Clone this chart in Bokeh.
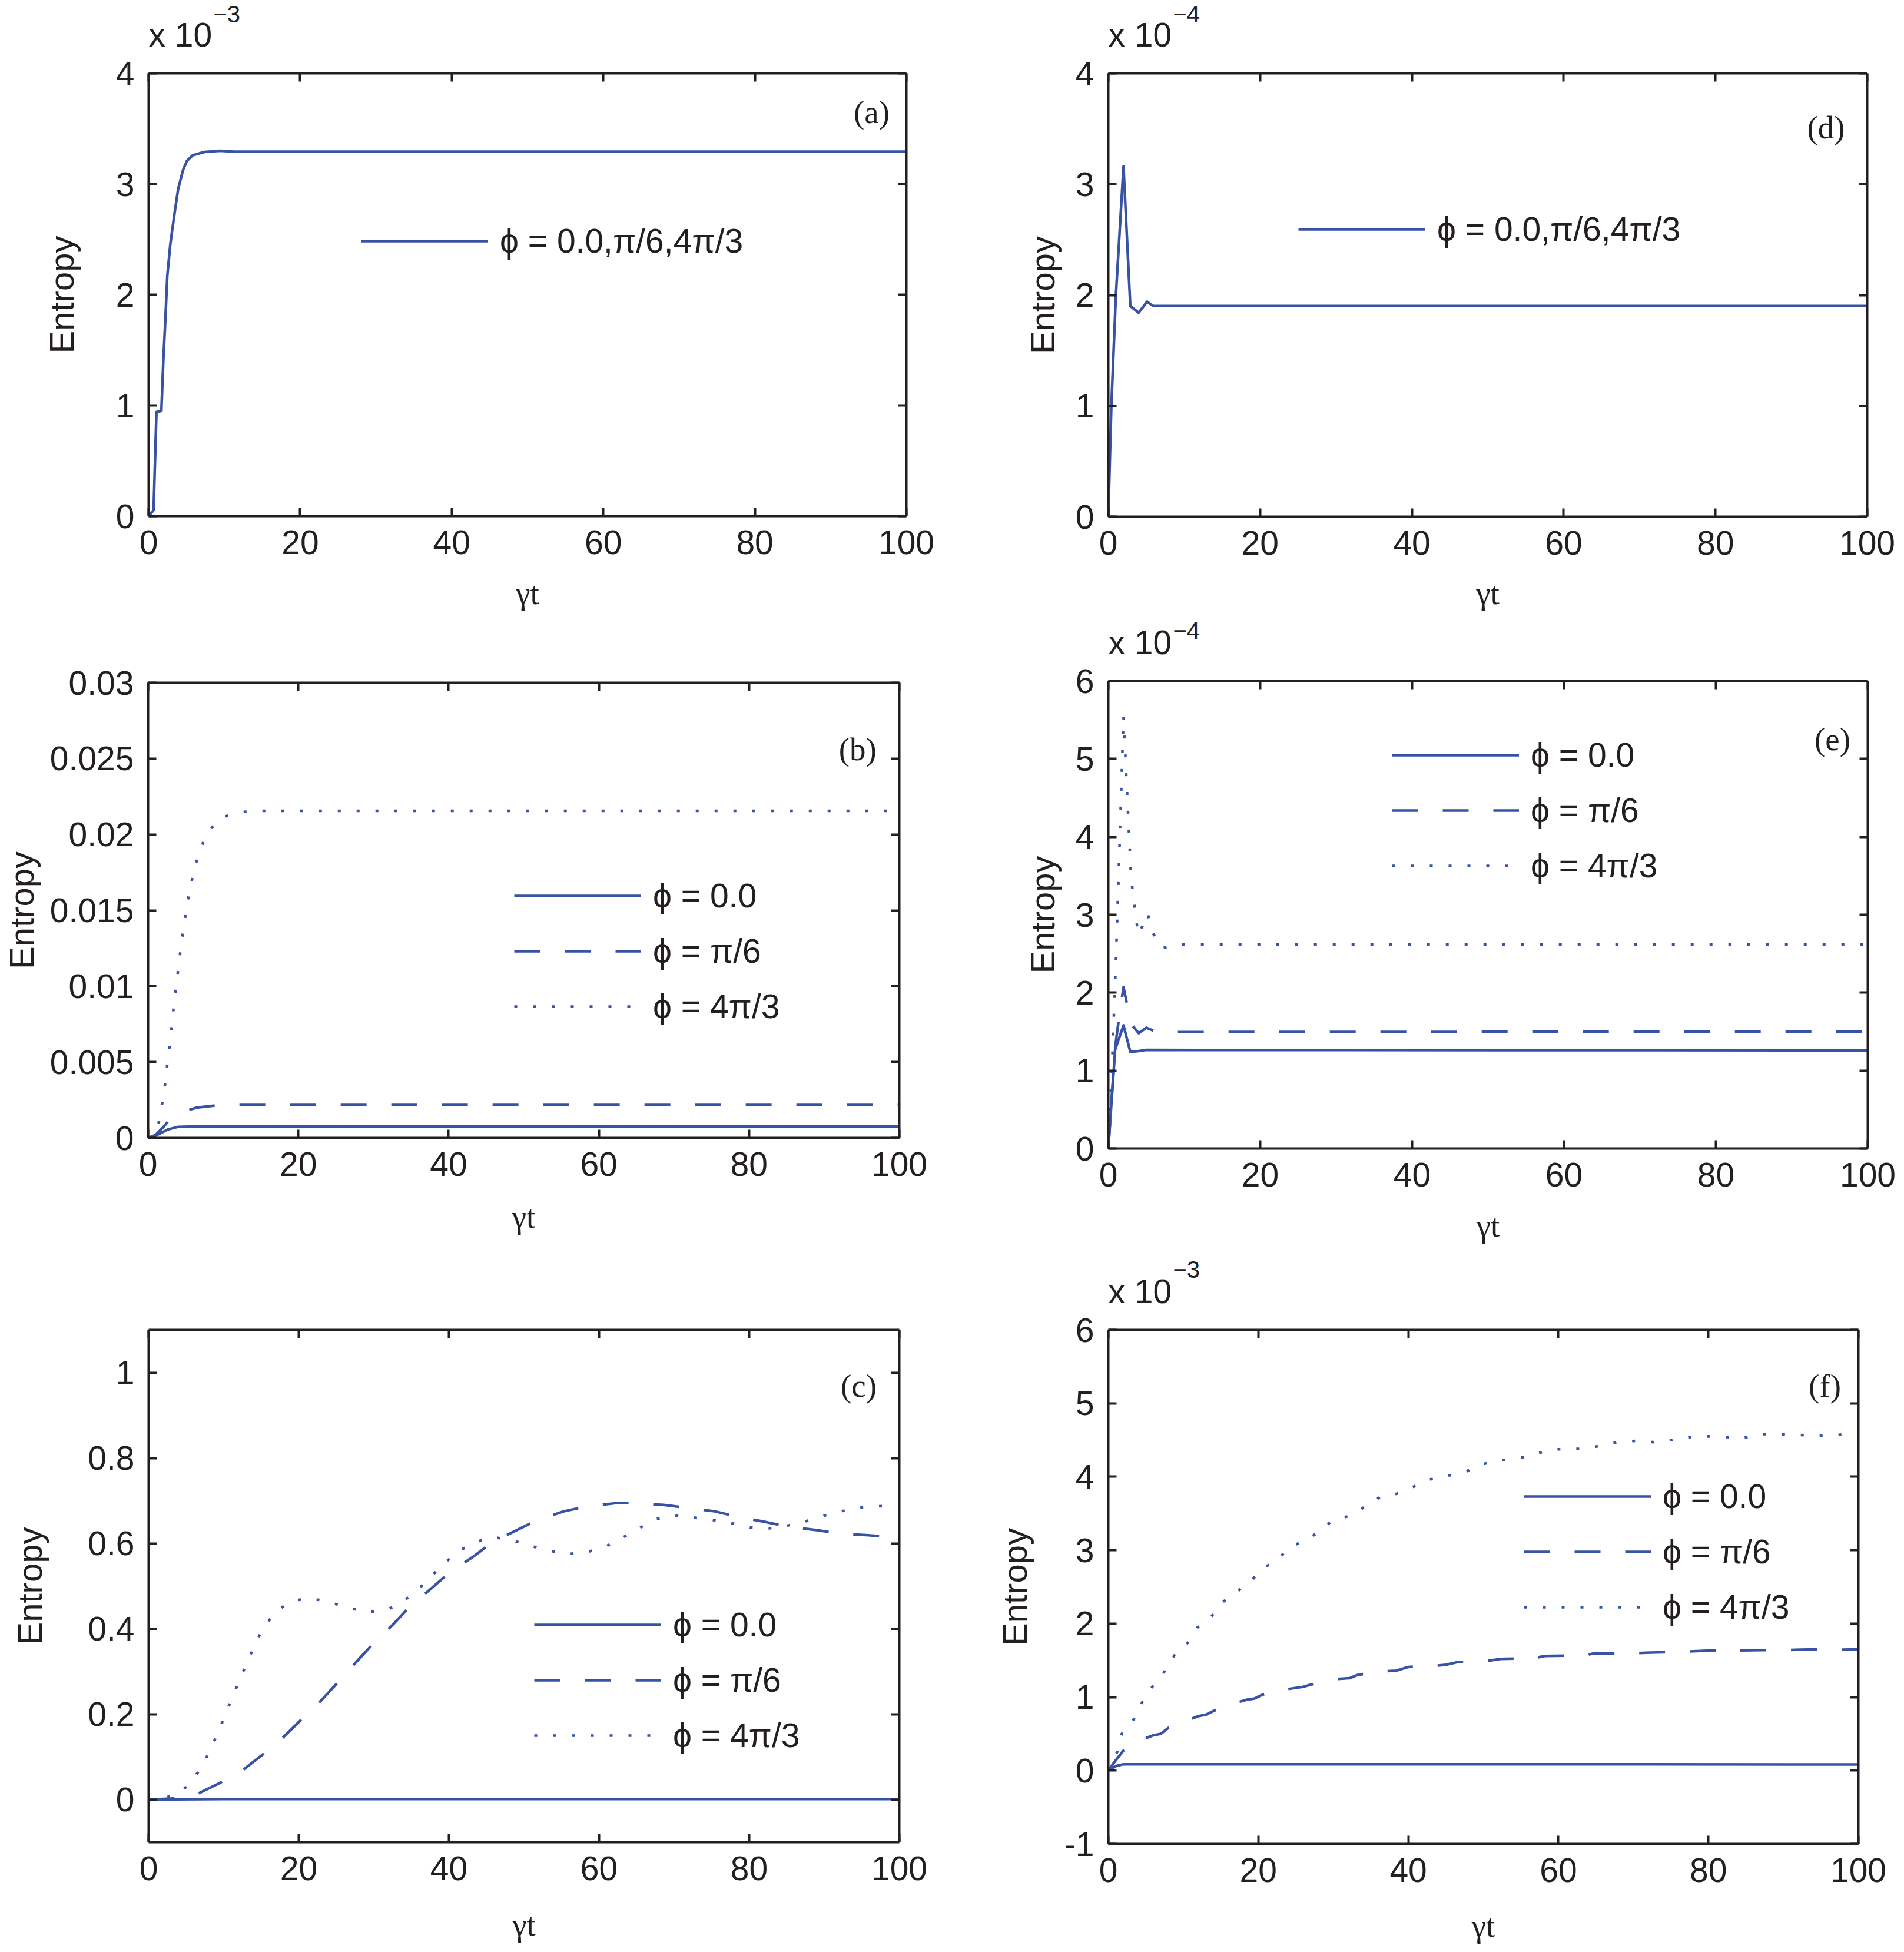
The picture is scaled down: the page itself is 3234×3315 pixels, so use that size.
import math
from bokeh.plotting import figure
from bokeh.models import Range1d, LinearAxis, FixedTicker, Label, CustomJSTickFormatter
from bokeh.layouts import row, column
from bokeh.embed import file_html
from bokeh.resources import INLINE

BLUE = "#3953A4"
INK = "#231F20"

# ---------------- data ----------------
x_ticks = [0, 20, 40, 60, 80, 100]

# (a)  units of 1e-3
a_ticks = [0, 1, 2, 3, 4]
a_tick_labels = ["0", "1", "2", "3", "4"]
a_t = [0, 0.65, 1.03, 1.68, 1.94, 2.2, 2.46, 2.85, 3.1, 3.49, 3.88, 4.53, 5.05, 5.82, 7.37, 9.44, 11.25, 100]
a_y = [0, 0.054, 0.94, 0.95, 1.41, 1.77, 2.17, 2.45, 2.58, 2.77, 2.95, 3.125, 3.21, 3.26, 3.29, 3.30, 3.293, 3.293]

# (d)  units of 1e-4
d_ticks = [0, 1, 2, 3, 4]
d_tick_labels = ["0", "1", "2", "3", "4"]
d_t = [0, 0.4, 1.0, 2.0, 2.9, 4.0, 5.1, 5.95, 100]
d_y = [0, 1.0, 2.0, 3.16, 1.90, 1.84, 1.94, 1.90, 1.90]

# (b)
b_ticks = [0, 0.005, 0.01, 0.015, 0.02, 0.025, 0.03]
b_tick_labels = ["0", "0.005", "0.01", "0.015", "0.02", "0.025", "0.03"]
b_t_sol = [0, 1, 2, 2.65, 4, 6, 100]
b_sol = [0, 0.00015, 0.0004, 0.00056, 0.00073, 0.00076, 0.00076]
b_t_dash = [0, 1, 2, 2.65, 4, 5.64, 6.5, 8.9, 12, 100]
b_dash = [0, 0.0002, 0.0007, 0.00108, 0.0015, 0.00188, 0.002, 0.00214, 0.00217, 0.00217]
b_t_dot = [0, 0.5, 1.0, 1.43, 1.9, 2.29, 2.6, 2.91, 3.19, 3.45, 3.77, 4.08, 4.42, 4.78, 5.17, 5.64, 6.26, 7.01, 8.16, 10.0, 12.5, 15, 100]
b_dot = [0, 0.0001, 0.0004, 0.00104, 0.00234, 0.00365, 0.005, 0.00625, 0.00755, 0.00884, 0.0101, 0.01144, 0.01273,
         0.01403, 0.01533, 0.01661, 0.01788, 0.01913, 0.0203, 0.02116, 0.02148, 0.02156, 0.02156]

# (e)  units of 1e-4
e_ticks = [0, 1, 2, 3, 4, 5, 6]
e_tick_labels = ["0", "1", "2", "3", "4", "5", "6"]
e_t_sol = [0, 0.9, 2.0, 2.9, 4.0, 5.0, 100]
e_sol = [0, 1.27, 1.58, 1.24, 1.25, 1.265, 1.26]
e_t_dash = [0, 0.9, 1.42, 2.0, 3.0, 4.0, 5.0, 6.0, 7.5, 100]
e_dash = [0, 1.3, 1.68, 2.07, 1.6, 1.48, 1.55, 1.51, 1.495, 1.50]
e_t_dot = [0, 0.5, 1.0, 1.5, 2.0, 3.0, 3.6, 3.93, 4.48, 5.17, 5.82, 7.1, 9.05, 100]
e_dot = [0, 1.1, 2.4, 3.95, 5.55, 3.47, 3.0, 2.74, 2.85, 3.02, 2.77, 2.57, 2.62, 2.62]

# (c)
c_ticks = [0, 0.2, 0.4, 0.6, 0.8, 1.0]
c_tick_labels = ["0", "0.2", "0.4", "0.6", "0.8", "1"]
c_t_sol = [0, 10, 100]
c_sol = [0, 0.001, 0.001]
c_t_dash = [0, 3, 6.5, 9.4, 12.7, 15.3, 18.0, 20.5, 23.1, 25.4, 27.6, 29.9, 32.5, 34.8, 37.5, 40.1, 43.1, 45.8,
            48.8, 51.7, 55.3, 58.5, 62.7, 65.0, 68.6, 71.8, 75.4, 78.3, 81.9, 85.2, 89.0, 92.0, 95.9, 98.8, 100]
c_dash = [0, 0.002, 0.013, 0.038, 0.071, 0.107, 0.147, 0.190, 0.234, 0.278, 0.321, 0.365, 0.409, 0.452, 0.492,
          0.532, 0.567, 0.603, 0.629, 0.654, 0.675, 0.687, 0.695, 0.694, 0.690, 0.683, 0.675, 0.663, 0.651, 0.639,
          0.631, 0.623, 0.619, 0.615, 0.614]
c_t_dot = [0, 2.6, 4.9, 6.5, 7.8, 8.9, 9.95, 10.9, 11.9, 12.9, 14.0, 15.1, 16.7, 18.7, 21.3, 23.7, 26.3, 28.7,
           31.2, 33.5, 35.6, 37.5, 39.3, 41.3, 43.6, 45.8, 48.4, 50.9, 53.3, 55.9, 58.3, 60.7, 63.1, 65.3, 67.6,
           70.1, 72.8, 75.1, 77.7, 80.2, 82.6, 85.0, 87.6, 90.0, 92.5, 94.9, 97.5, 100]
c_dot = [0, 0.006, 0.028, 0.062, 0.102, 0.143, 0.187, 0.229, 0.271, 0.313, 0.356, 0.397, 0.435, 0.463, 0.472,
         0.464, 0.451, 0.440, 0.440, 0.459, 0.487, 0.520, 0.552, 0.582, 0.603, 0.615, 0.607, 0.594, 0.583, 0.575,
         0.579, 0.591, 0.613, 0.635, 0.657, 0.665, 0.660, 0.655, 0.647, 0.637, 0.635, 0.641, 0.652, 0.665, 0.676,
         0.684, 0.687, 0.688]

# (f)  units of 1e-3
f_ticks = [-1, 0, 1, 2, 3, 4, 5, 6]
f_tick_labels = ["-1", "0", "1", "2", "3", "4", "5", "6"]
f_t_sol = [0, 1, 2, 100]
f_sol = [0, 0.06, 0.085, 0.083]
f_t_dash = [0, 1, 2, 3, 4, 5, 6, 7, 8, 9, 10, 11, 12, 13, 14, 15, 16, 17, 18.5, 19.5, 20.5, 22, 24, 26, 27,
            28.5, 30.2, 32.2, 33.2, 35, 36.7, 38.4, 40, 42, 44, 45, 46.5, 48.5, 50.4, 52.3, 55, 57, 58.2, 61,
            63.7, 64.7, 67, 70.5, 74, 77, 80.3, 84, 87.1, 90, 94, 97, 100]
f_dash = [0, 0.14, 0.27, 0.33, 0.39, 0.44, 0.48, 0.50, 0.58, 0.62, 0.66, 0.70, 0.74, 0.76, 0.81, 0.85, 0.88,
          0.92, 0.965, 0.98, 1.03, 1.07, 1.11, 1.14, 1.17, 1.20, 1.245, 1.258, 1.30, 1.33, 1.35, 1.36, 1.41, 1.42,
          1.43, 1.44, 1.475, 1.48, 1.49, 1.52, 1.525, 1.535, 1.56, 1.565, 1.57, 1.595, 1.595, 1.60, 1.61, 1.62,
          1.635, 1.635, 1.64, 1.64, 1.65, 1.645, 1.65]
f_t_dot = [0, 1.17, 1.8, 3.45, 4.55, 5.98, 7.5, 8.8, 10.5, 11.9, 13.65, 15.15, 16.97, 18.9, 20.5, 22.4, 24.1,
           26.2, 28.1, 29.9, 32.3, 34.1, 36.2, 38.5, 40.6, 42.7, 45.0, 47.3, 49.4, 51.6, 56.2, 58.5, 60.8, 63.3,
           65.5, 67.9, 70.4, 72.8, 75.1, 77.6, 80.0, 82.4, 84.7, 87.1, 89.5, 92.0, 94.5, 97.1, 100]
f_dot = [0, 0.25, 0.5, 0.705, 0.935, 1.157, 1.35, 1.567, 1.728, 1.95, 2.083, 2.286, 2.424, 2.56, 2.756, 2.848,
         3.04, 3.13, 3.25, 3.41, 3.47, 3.585, 3.72, 3.77, 3.86, 3.96, 4.01, 4.05, 4.16, 4.21, 4.28, 4.36, 4.38,
         4.38, 4.42, 4.47, 4.49, 4.47, 4.50, 4.54, 4.55, 4.54, 4.53, 4.58, 4.58, 4.57, 4.56, 4.57, 4.59]

LEG_ALL = "ϕ = 0.0,π/6,4π/3"
LEG_0 = "ϕ = 0.0"
LEG_1 = "ϕ = π/6"
LEG_2 = "ϕ = 4π/3"
Y_TITLE = "Entropy"
X_TITLE = "γt"

# ---------------- layout geometry (page pixels) ----------------
XLIM = (0, 100)
COL_X = [0, 1628]
COL_W = [1628, 1600]

DASH = "44 42"
DOT = "5 27"
LW = 4.5


def no_align(fig):
    if "frame_align" in fig.properties():
        fig.frame_align = False


def to_data(frame, yr, px, py):
    L, R, T, B = frame
    x = XLIM[0] + (px - L) / (R - L) * (XLIM[1] - XLIM[0])
    y = yr[0] + (B - py) / (B - T) * (yr[1] - yr[0])
    return x, y


def tick_fmt(ticks, labels):
    return CustomJSTickFormatter(args=dict(t=ticks, l=labels), code="""
        let best = 0;
        for (let i = 0; i < t.length; i++) {
            if (Math.abs(t[i] - tick) < Math.abs(t[best] - tick)) best = i;
        }
        return l[best];
    """)


def style_axis(ax, show):
    ax.axis_line_color = INK
    ax.axis_line_width = 4
    ax.major_tick_line_color = INK
    ax.major_tick_line_width = 4
    ax.major_tick_in = 14
    ax.major_tick_out = 0
    ax.minor_tick_line_color = None
    if show:
        ax.major_label_text_font = "Liberation Sans"
        ax.major_label_text_font_size = "57px"
        ax.major_label_text_color = INK
        ax.major_label_standoff = 24
    else:
        ax.formatter = CustomJSTickFormatter(code="return '';")
        ax.major_label_text_font_size = "0px"
        ax.major_label_text_color = None
        ax.major_label_standoff = 0


def panel(col, y0, H, frame, yr, yticks, ylabels, ylab_standoff, xlab_standoff):
    L, R, T, B = frame
    x0 = COL_X[col]
    W = COL_W[col]
    p = figure(width=W, height=H, output_backend="svg", toolbar_location=None,
               x_range=Range1d(*XLIM), y_range=Range1d(*yr),
               min_border_left=L - x0, min_border_right=x0 + W - R,
               min_border_top=T - y0, min_border_bottom=y0 + H - B)
    no_align(p)
    p.xgrid.visible = False
    p.ygrid.visible = False
    p.outline_line_color = None
    p.background_fill_color = "white"
    p.border_fill_color = "white"

    xb = p.below[0]
    yl = p.left[0]
    xb.ticker = FixedTicker(ticks=x_ticks)
    yl.ticker = FixedTicker(ticks=yticks)
    yl.formatter = tick_fmt(yticks, ylabels)
    style_axis(xb, True)
    style_axis(yl, True)

    yl.axis_label = Y_TITLE
    yl.axis_label_text_font = "Liberation Sans"
    yl.axis_label_text_font_size = "58px"
    yl.axis_label_text_font_style = "normal"
    yl.axis_label_text_color = INK
    yl.axis_label_standoff = ylab_standoff

    xb.axis_label = X_TITLE
    xb.axis_label_text_font = "Liberation Serif"
    xb.axis_label_text_font_size = "55px"
    xb.axis_label_text_font_style = "normal"
    xb.axis_label_text_color = INK
    xb.axis_label_standoff = xlab_standoff

    xt = LinearAxis(ticker=FixedTicker(ticks=x_ticks))
    yr_ax = LinearAxis(ticker=FixedTicker(ticks=yticks))
    style_axis(xt, False)
    style_axis(yr_ax, False)
    p.add_layout(xt, "above")
    p.add_layout(yr_ax, "right")
    return p


def strip(col, H, items):
    """A text-only band above a panel, used for the 'x 10^n' multiplier."""
    W = COL_W[col]
    s = figure(width=W, height=H, output_backend="svg", toolbar_location=None,
               x_range=Range1d(0, W), y_range=Range1d(0, H),
               x_axis_location=None, y_axis_location=None,
               min_border_left=0, min_border_right=0, min_border_top=0, min_border_bottom=0)
    no_align(s)
    s.xgrid.visible = False
    s.ygrid.visible = False
    s.outline_line_color = None
    s.background_fill_color = "white"
    s.border_fill_color = "white"
    for (x, y, text, size) in items:
        s.add_layout(Label(x=x, y=y, text=text, text_font="Liberation Sans", text_font_size=size,
                           text_color=INK, text_align="left", text_baseline="middle"))
    return s


def tag(p, frame, yr, px, py, text):
    x, y = to_data(frame, yr, px, py - 5)
    p.add_layout(Label(x=x, y=y, text=text, text_font="Liberation Serif", text_font_size="55px",
                       text_color=INK, text_align="center", text_baseline="middle"))


def style_legend(p, loc, spacing=14):
    lg = p.legend[0]
    lg.location = loc
    lg.glyph_width = 216
    lg.glyph_height = 80
    lg.label_height = 80
    lg.spacing = spacing
    lg.padding = 0
    lg.margin = 0
    lg.border_line_color = None
    lg.background_fill_alpha = 0
    lg.label_text_font = "Liberation Sans"
    lg.label_text_font_size = "57px"
    lg.label_text_color = INK
    lg.label_standoff = 20


def lines3(p, t0, y0, t1, y1, t2, y2):
    p.line(t0, y0, line_color=BLUE, line_width=LW, line_join="round", legend_label=LEG_0)
    p.line(t1, y1, line_color=BLUE, line_width=LW, line_join="round", line_dash=DASH, legend_label=LEG_1)
    p.line(t2, y2, line_color=BLUE, line_width=LW, line_join="round", line_dash=DOT, legend_label=LEG_2)


# ---------------- left column ----------------
sa = strip(0, 91, [(252, 33, "x 10", "57px"), (362, 68, "−3", "40px")])

FR_A = (252, 1539, 124, 876)
YR_A = (0, 4)
pa = panel(0, 91, 959, FR_A, YR_A, a_ticks, a_tick_labels, 57, 33)
pa.line(a_t, a_y, line_color=BLUE, line_width=LW, line_join="round", legend_label=LEG_ALL)
style_legend(pa, (361, 427))
tag(pa, FR_A, YR_A, 1480, 195, "(a)")

FR_B = (245, 1527, 1159, 1932)
YR_B = (0, 0.03)
pb = panel(0, 1050, 1090, FR_B, YR_B, b_ticks, b_tick_labels, 13, 36)
lines3(pb, b_t_sol, b_sol, b_t_dash, b_dash, b_t_dot, b_dot)
style_legend(pb, (622, 183))
tag(pb, FR_B, YR_B, 1456, 1277, "(b)")

FR_C = (252, 1527, 2258, 3128)
YR_C = (-0.1, 1.1)
pc = panel(0, 2140, 1165, FR_C, YR_C, c_ticks, c_tick_labels, 63, 42)
lines3(pc, c_t_sol, c_sol, c_t_dash, c_dash, c_t_dot, c_dot)
style_legend(pc, (655, 141))
tag(pc, FR_C, YR_C, 1458, 2358, "(c)")

# ---------------- right column ----------------
sd = strip(1, 91, [(254, 33, "x 10", "57px"), (364, 68, "−4", "40px")])

FR_D = (1882, 3171, 124, 877)
YR_D = (0, 4)
pd = panel(1, 91, 955, FR_D, YR_D, d_ticks, d_tick_labels, 21, 32)
pd.line(d_t, d_y, line_color=BLUE, line_width=LW, line_join="round", legend_label=LEG_ALL)
style_legend(pd, (323, 448))
tag(pd, FR_D, YR_D, 3101, 221, "(d)")

se = strip(1, 77, [(254, 33, "x 10", "57px"), (364, 53, "−4", "40px")])

FR_E = (1882, 3172, 1156, 1950)
YR_E = (0, 6)
pe = panel(1, 1123, 1002, FR_E, YR_E, e_ticks, e_tick_labels, 21, 33)
lines3(pe, e_t_sol, e_sol, e_t_dash, e_dash, e_t_dot, e_dot)
style_legend(pe, (482, 440))
tag(pe, FR_E, YR_E, 3112, 1260, "(e)")

sf = strip(1, 100, [(254, 33, "x 10", "57px"), (364, 70, "−3", "40px")])

FR_F = (1882, 3156, 2258, 3131)
YR_F = (-1, 6)
pf = panel(1, 2225, 1080, FR_F, YR_F, f_ticks, f_tick_labels, 49, 41)
lines3(pf, f_t_sol, f_sol, f_t_dash, f_dash, f_t_dot, f_dot)
style_legend(pf, (706, 362))
tag(pf, FR_F, YR_F, 3099, 2358, "(f)")

left_col = column(sa, pa, pb, pc)
right_col = column(sd, pd, se, pe, sf, pf)
layout = row(left_col, right_col)

open("out.html", "w").write(file_html(layout, INLINE))
